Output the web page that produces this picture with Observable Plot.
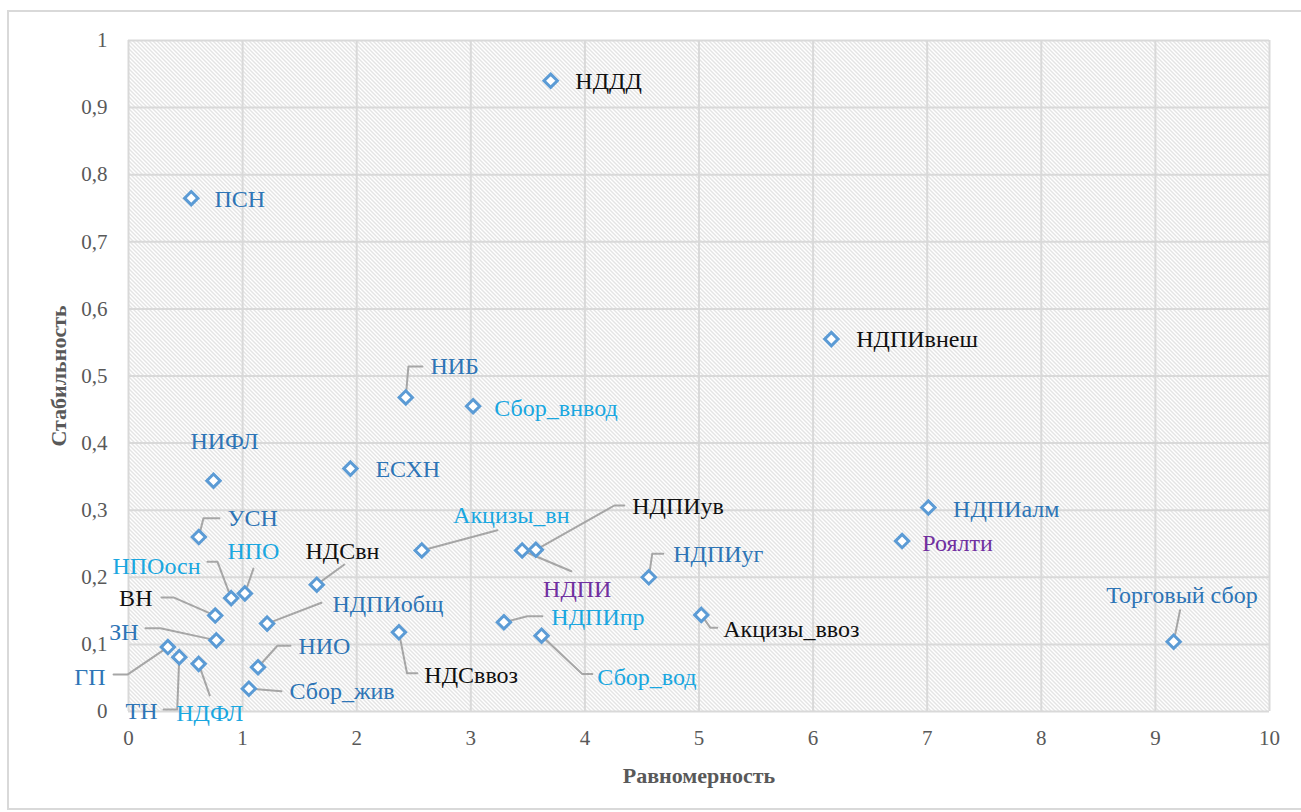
<!DOCTYPE html>
<html><head><meta charset="utf-8">
<script src="https://cdn.jsdelivr.net/npm/d3@7"></script>
<script src="https://cdn.jsdelivr.net/npm/@observablehq/plot@0.6"></script>
<style>
html,body{margin:0;padding:0;background:#fff;}
#wrap{position:relative;width:1301px;height:812px;overflow:hidden;}
#border{position:absolute;left:7px;top:10px;width:1330px;height:800px;border:2px solid #D9D9D9;box-sizing:border-box;}
#chart{position:absolute;left:0;top:0;}
#chart svg, #chart svg text, #chart svg g {font-family:"Liberation Serif",Tinos,"Times New Roman","DejaVu Serif",serif !important;}
</style></head><body>
<div id="wrap"><div id="border"></div><div id="chart"></div></div>
<script>
// ---- data ----
const names = ["НДДД","ПСН","НДПИвнеш","НИБ","Сбор_внвод","ЕСХН","НИФЛ","НДПИалм","Роялти","УСН","Акцизы_вн","НДПИ","НДПИув","НДПИуг","НДСвн","НПОосн","НПО","ВН","НДПИобщ","НДСввоз","НДПИпр","Сбор_вод","Акцизы_ввоз","Торговый сбор","ЗН","ГП","ТН","НДФЛ","НИО","Сбор_жив"];
const evenness = [3.70,0.55,6.16,2.43,3.02,1.945,0.745,7.01,6.78,0.616,2.57,3.45,3.57,4.56,1.65,0.90,1.02,0.76,1.215,2.37,3.29,3.62,5.02,9.16,0.77,0.345,0.445,0.615,1.135,1.055];
const stability = [0.940,0.765,0.555,0.468,0.455,0.362,0.344,0.304,0.254,0.260,0.240,0.240,0.241,0.200,0.189,0.169,0.176,0.143,0.131,0.118,0.133,0.113,0.144,0.104,0.106,0.096,0.081,0.071,0.066,0.034];
const labelGroup = ["B","A","B","A","C","A","A","A","D","A","C","D","B","A","B","C","C","B","A","B","C","C","B","A","A","A","A","C","A","A"];
// label positions (data units)
const labelX = [3.916,0.753,6.378,2.646,3.206,2.164,0.841,7.227,6.956,0.867,3.355,3.933,4.415,4.774,1.875,0.631,1.095,0.210,1.787,2.593,3.706,4.109,5.212,9.233,0.088,-0.201,0.254,0.712,1.489,1.410];
const labelY = [0.939,0.763,0.554,0.514,0.452,0.361,0.402,0.301,0.250,0.288,0.292,0.182,0.306,0.234,0.238,0.216,0.238,0.168,0.159,0.054,0.140,0.051,0.122,0.173,0.118,0.051,0.001,-0.002,0.097,0.030];
const labelAnchor = ["start","start","start","start","start","start","middle","start","start","start","middle","middle","start","start","middle","end","middle","end","start","start","start","start","start","middle","end","end","end","middle","start","start"];
// leader line waypoints (data units), after the data point
const leaders = [
 [], [], [],
 [[2.453,0.514],[2.576,0.514]],
 [], [], [], [], [],
 [[0.657,0.288],[0.797,0.288]],
 [[3.233,0.270]],
 [[3.881,0.209]],
 [[4.258,0.307],[4.345,0.307]],
 [[4.590,0.235],[4.687,0.235]],
 [[1.892,0.219]],
 [[0.780,0.223],[0.692,0.223]],
 [[1.095,0.213]],
 [[0.394,0.170],[0.289,0.170]],
 [[1.691,0.162]],
 [[2.441,0.057],[2.532,0.057]],
 [[3.495,0.142],[3.627,0.142]],
 [[3.977,0.056],[4.065,0.056]],
 [[5.099,0.125],[5.160,0.125]],
 [[9.216,0.151]],
 [[0.280,0.124],[0.149,0.124]],
 [[-0.009,0.055],[-0.131,0.055]],
 [[0.427,0.003],[0.307,0.003]],
 [[0.712,0.024]],
 [[1.305,0.098],[1.419,0.098]],
 [[1.340,0.030]]
];
const xTicks = [0,1,2,3,4,5,6,7,8,9,10];
const yTicks = [0,0.1,0.2,0.3,0.4,0.5,0.6,0.7,0.8,0.9,1];
const xTitle = "Равномерность";
const yTitle = "Стабильность";

// ---- build tables ----
const points = names.map((n,i) => ({name:n, x:evenness[i], y:stability[i], g:labelGroup[i], lx:labelX[i], ly:labelY[i], a:labelAnchor[i]}));
const leaderRows = [];
points.forEach((p,i) => {
  if (!leaders[i].length) return;
  leaderRows.push({name:p.name, x:p.x, y:p.y});
  leaders[i].forEach(([x,y]) => leaderRows.push({name:p.name, x, y}));
});
const fmt = d => String(d).replace(".", ",");
const font = "Liberation Serif, Tinos, Times New Roman, DejaVu Serif, serif";
const labelMark = anchor => Plot.text(points.filter(p => p.a === anchor), {
  x:"lx", y:"ly", text:"name", fill:"g", textAnchor:anchor, lineAnchor:"middle", fontSize:24, fontFamily:font
});

const chart = Plot.plot({
  width:1301, height:812,
  marginLeft:128, marginRight:32, marginTop:40, marginBottom:101,
  x:{domain:[0,10]}, y:{domain:[0,1]},
  color:{domain:["A","B","C","D"], range:["#2E75B6","#111111","#1AA7E0","#7030A0"]},
  style:{background:"transparent", overflow:"visible"},
  marks:[
    Plot.frame({fill:"url(#hatch)", stroke:null}),
    Plot.gridX(xTicks, {stroke:"#D9D9D9", strokeOpacity:1, strokeWidth:2}),
    Plot.gridY(yTicks, {stroke:"#D9D9D9", strokeOpacity:1, strokeWidth:2}),
    Plot.axisX(xTicks, {tickSize:0, tickPadding:19, tickFormat:fmt, fontSize:21, fill:"#595959", label:null, fontFamily:font}),
    Plot.axisY(yTicks, {tickSize:0, tickPadding:21, tickFormat:fmt, fontSize:21, fill:"#595959", label:null, fontFamily:font}),
    Plot.line(leaderRows, {x:"x", y:"y", z:"name", stroke:"#A6A6A6", strokeWidth:2}),
    Plot.dot(points, {x:"x", y:"y", symbol:"diamond2", r:6, stroke:"#5B9BD5", strokeWidth:3, fill:"white"}),
    labelMark("start"), labelMark("middle"), labelMark("end"),
    Plot.text([xTitle], {frameAnchor:"bottom", textAnchor:"middle", dy:64, lineAnchor:"middle", fontWeight:"bold", fontSize:22, fill:"#595959", fontFamily:font}),
    Plot.text([yTitle], {frameAnchor:"left", textAnchor:"middle", dx:-70, rotate:-90, lineAnchor:"middle", fontWeight:"bold", fontSize:22, fill:"#595959", fontFamily:font})
  ]
});
d3.select(chart).insert("defs", ":first-child").html(
  '<pattern id="hatch" patternUnits="userSpaceOnUse" width="4" height="4">' +
  '<rect width="4" height="4" fill="#ffffff"/>' +
  '<path d="M-1,-1 L5,5 M-1,3 L1,5 M3,-1 L5,1" stroke="#C8C8C8" stroke-width="1"/></pattern>');
document.getElementById("chart").appendChild(chart);
</script>
</body></html>
